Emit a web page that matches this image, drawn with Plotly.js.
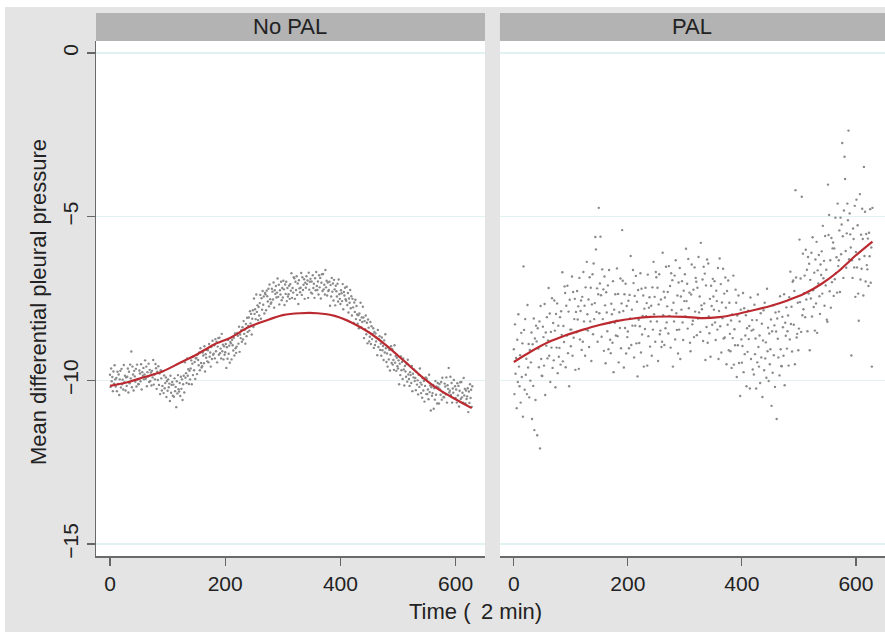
<!DOCTYPE html>
<html>
<head>
<meta charset="utf-8">
<script src="https://cdn.plot.ly/plotly-3.0.1.min.js"></script>
<style>
html,body{margin:0;padding:0;background:#ffffff;}
#chart{position:absolute;left:5px;top:7px;width:880px;height:625px;}
</style>
</head>
<body>
<div id="chart"></div>
<script>
// Panel titles
const panelNames = ["No PAL", "PAL"];
const xTickVals = [0, 200, 400, 600];
const yTickVals = [-15, -10, -5, 0];
const yTickText = ["\u221215", "\u221210", "\u22125", "0"];
const xTitle = "Time (\u2009 2 min)";
const yTitle = "Mean differential pleural pressure";

// Scatter: No PAL (one value per time step, t = 0..629)
const noPalPressure = [
-9.83,-10.20,-9.64,-10.03,-9.90,-10.33,-9.73,-10.10,-9.54,-9.97,
-10.19,-9.93,-10.33,-9.74,-10.11,-9.82,-10.45,-9.97,-9.71,-10.22,
-9.65,-10.12,-9.98,-10.28,-9.53,-10.06,-9.86,-10.31,-9.91,-10.17,
-9.89,-9.64,-10.37,-9.74,-10.09,-9.52,-9.94,-9.12,-10.21,-9.58,
-9.82,-10.31,-9.71,-9.88,-10.04,-9.65,-10.19,-9.52,-9.97,-10.11,
-10.12,-9.70,-9.79,-10.03,-9.51,-10.28,-9.75,-9.86,-9.62,-9.97,
-9.82,-9.39,-9.95,-9.58,-10.18,-9.75,-9.88,-9.49,-10.05,-9.68,
-10.02,-9.76,-10.16,-9.71,-9.91,-9.38,-10.13,-9.83,-9.97,-9.50,
-9.63,-10.26,-9.74,-9.99,-9.57,-10.14,-9.79,-10.42,-9.69,-9.94,
-10.31,-10.17,-9.72,-10.39,-9.85,-10.24,-10.08,-9.91,-10.51,-10.02,
-10.32,-9.97,-10.21,-10.10,-10.63,-9.86,-10.38,-10.14,-10.05,-10.47,
-10.13,-10.50,-9.94,-10.33,-10.20,-10.82,-10.03,-10.40,-9.84,-10.27,
-10.34,-10.08,-10.48,-9.89,-10.26,-9.97,-10.60,-10.12,-9.86,-10.37,
-9.45,-9.92,-9.78,-10.08,-9.33,-9.86,-9.66,-10.11,-9.71,-9.97,
-9.64,-9.39,-10.12,-9.49,-9.84,-9.27,-9.69,-9.44,-9.96,-9.33,
-9.32,-9.81,-9.21,-9.38,-9.54,-9.15,-9.69,-9.02,-9.47,-9.61,
-9.57,-9.15,-9.24,-9.48,-8.96,-9.73,-9.20,-9.31,-9.07,-9.42,
-9.08,-9.45,-8.89,-9.28,-9.15,-9.58,-8.98,-9.35,-8.79,-9.22,
-9.19,-8.93,-9.33,-8.74,-9.11,-8.82,-9.45,-8.97,-8.71,-9.22,
-8.70,-9.17,-9.03,-9.33,-8.58,-9.11,-8.91,-9.36,-8.96,-9.22,
-9.14,-8.89,-9.62,-8.99,-9.34,-8.77,-9.19,-8.94,-9.46,-8.83,
-8.87,-9.36,-8.76,-8.93,-9.09,-8.70,-9.24,-8.57,-9.02,-9.16,
-8.97,-8.55,-8.64,-8.88,-8.36,-9.13,-8.60,-8.71,-8.47,-8.82,
-8.38,-8.75,-8.19,-8.58,-8.45,-8.88,-8.28,-8.65,-8.09,-8.52,
-8.34,-8.08,-8.48,-7.89,-8.26,-7.97,-8.60,-8.12,-7.86,-8.37,
-7.50,-7.97,-7.83,-8.13,-7.38,-7.91,-7.71,-8.16,-7.76,-8.02,
-7.64,-7.39,-8.12,-7.49,-7.84,-7.27,-7.69,-7.44,-7.96,-7.33,
-7.37,-7.86,-7.26,-7.43,-7.59,-7.20,-7.74,-7.07,-7.52,-7.66,
-7.62,-7.20,-7.29,-7.53,-7.01,-7.78,-7.25,-7.36,-7.12,-7.47,
-7.32,-6.89,-7.45,-7.08,-7.68,-7.25,-7.38,-6.99,-7.55,-7.18,
-7.47,-6.96,-7.22,-7.70,-7.07,-7.36,-6.99,-7.58,-7.18,-7.44,
-7.37,-7.11,-7.51,-7.06,-7.26,-6.73,-7.48,-7.18,-7.32,-6.85,
-6.88,-7.51,-6.99,-7.24,-6.82,-7.39,-7.04,-7.67,-6.94,-7.19,
-7.31,-7.17,-6.72,-7.39,-6.85,-7.24,-7.08,-6.91,-7.51,-7.02,
-7.17,-6.82,-7.06,-6.95,-7.48,-6.71,-7.23,-6.99,-6.90,-7.32,
-6.98,-7.35,-6.79,-7.18,-7.05,-7.48,-6.88,-7.25,-6.69,-7.12,
-7.24,-6.98,-7.38,-6.79,-7.16,-6.87,-7.50,-7.02,-6.76,-7.27,
-6.75,-7.22,-7.08,-7.38,-6.63,-7.16,-6.96,-7.41,-7.01,-7.27,
-7.24,-6.99,-7.72,-7.09,-7.44,-6.87,-7.29,-7.04,-7.56,-6.93,
-7.22,-7.71,-7.11,-7.28,-7.44,-7.05,-7.59,-6.92,-7.37,-7.51,
-7.67,-7.25,-7.34,-7.58,-7.06,-7.83,-7.30,-7.41,-7.17,-7.52,
-7.57,-7.14,-7.70,-7.33,-7.93,-7.50,-7.63,-7.24,-7.80,-7.43,
-8.02,-7.51,-7.77,-8.25,-7.62,-7.91,-7.54,-8.13,-7.73,-7.99,
-8.27,-8.01,-8.41,-7.96,-8.16,-7.63,-8.38,-8.08,-8.22,-7.75,
-8.08,-8.71,-8.19,-8.44,-8.02,-8.59,-8.24,-8.87,-8.14,-8.39,
-8.81,-8.67,-8.22,-8.89,-8.35,-8.74,-8.58,-8.41,-9.01,-8.52,
-8.92,-8.57,-8.81,-8.70,-9.23,-8.46,-8.98,-8.74,-8.65,-9.07,
-8.88,-9.25,-8.69,-9.08,-8.95,-9.38,-8.78,-9.15,-8.59,-9.02,
-9.44,-9.18,-9.58,-8.99,-9.36,-9.07,-9.70,-9.22,-8.96,-9.47,
-9.05,-9.52,-9.38,-9.68,-8.93,-9.46,-9.26,-9.71,-9.31,-9.57,
-9.64,-9.39,-10.12,-9.49,-9.84,-9.27,-9.69,-9.44,-9.96,-9.33,
-9.67,-10.16,-9.56,-9.73,-9.89,-9.50,-10.04,-9.37,-9.82,-9.96,
-10.17,-9.75,-9.84,-10.08,-9.56,-10.33,-9.80,-9.91,-9.67,-10.02,
-9.93,-10.30,-9.74,-10.13,-10.00,-10.43,-9.83,-10.20,-9.64,-10.07,
-10.39,-10.13,-10.53,-9.94,-10.31,-10.02,-10.65,-10.17,-9.91,-10.42,
-9.95,-10.42,-10.28,-10.58,-9.83,-10.36,-10.16,-10.92,-10.21,-10.47,
-10.39,-10.14,-10.87,-10.24,-10.59,-10.02,-10.44,-10.19,-10.71,-10.08,
-10.22,-10.71,-10.11,-10.28,-10.44,-10.05,-10.59,-9.92,-10.37,-10.51,
-10.52,-10.10,-10.19,-10.43,-9.91,-10.68,-10.15,-10.26,-9.62,-10.37,
-10.32,-9.89,-10.45,-10.08,-10.68,-10.25,-10.38,-9.99,-10.55,-10.18,
-10.54,-10.28,-10.68,-10.09,-10.46,-10.17,-10.80,-10.32,-10.06,-10.57,
-10.05,-10.52,-10.38,-10.68,-9.93,-10.46,-10.26,-10.71,-10.31,-10.57,
-10.49,-10.24,-10.97,-10.34,-10.69,-10.12,-10.54,-10.29,-10.81,-10.18
];

// Scatter: PAL (one value per time step, t = 0..629)
const palPressure = [
-9.05,-10.42,-8.29,-9.80,-9.32,-10.85,-8.76,-10.05,-7.98,-9.58,
-10.18,-9.23,-10.68,-8.55,-9.90,-8.87,-11.11,-6.52,-8.46,-10.29,
-8.13,-9.83,-9.34,-10.42,-7.70,-9.61,-8.89,-10.52,-9.07,-10.01,
-9.45,-8.54,-11.18,-8.90,-10.17,-8.11,-11.52,-8.72,-10.60,-8.33,
-8.81,-11.68,-8.41,-9.03,-9.60,-8.20,-12.08,-7.73,-9.35,-9.86,
-9.87,-8.36,-8.68,-9.55,-7.67,-10.45,-8.54,-8.94,-8.07,-9.33,
-8.78,-7.18,-9.25,-7.96,-10.05,-8.52,-9.00,-7.49,-9.62,-8.25,
-9.39,-7.56,-8.48,-10.21,-7.97,-9.00,-7.65,-9.78,-8.33,-9.28,
-9.01,-8.07,-9.52,-7.89,-8.61,-6.70,-9.42,-8.34,-8.83,-7.13,
-7.33,-9.60,-7.72,-8.63,-7.11,-9.17,-7.90,-10.18,-7.54,-8.45,
-8.96,-8.45,-6.83,-9.25,-7.30,-8.70,-8.13,-7.51,-9.68,-7.91,
-8.53,-7.27,-8.14,-7.74,-9.65,-6.87,-8.75,-7.88,-7.56,-9.07,
-7.45,-8.82,-6.69,-8.20,-7.72,-9.25,-7.16,-8.45,-6.38,-7.98,
-8.48,-7.53,-8.98,-6.85,-8.20,-7.17,-9.41,-7.68,-6.76,-8.59,
-6.43,-8.13,-7.64,-5.62,-6.00,-7.91,-7.19,-8.82,-7.37,-4.73,
-7.95,-7.04,-5.61,-7.40,-8.67,-6.61,-8.13,-7.22,-9.10,-6.83,
-7.71,-9.48,-7.31,-7.93,-8.50,-7.10,-9.05,-6.63,-8.25,-8.76,
-9.17,-7.66,-7.98,-8.85,-6.97,-9.75,-7.84,-8.24,-7.37,-8.63,
-8.18,-6.58,-8.65,-7.36,-9.45,-7.92,-8.40,-6.89,-9.02,-7.65,
-5.41,-6.96,-7.88,-9.61,-7.37,-8.40,-7.05,-9.18,-7.73,-8.68,
-8.51,-7.57,-9.02,-7.39,-8.11,-6.20,-8.92,-7.84,-8.33,-6.63,
-7.03,-9.30,-7.42,-8.33,-6.81,-8.87,-7.60,-9.88,-7.24,-8.15,
-8.86,-8.35,-6.73,-9.15,-7.20,-8.60,-8.03,-7.41,-9.58,-7.81,
-8.43,-7.17,-8.04,-7.64,-9.55,-6.77,-8.65,-7.78,-7.46,-8.97,
-8.20,-7.72,-9.25,-7.16,-8.45,-6.38,-7.98,-7.45,-8.82,-6.69,
-6.85,-8.20,-7.17,-9.41,-7.68,-6.76,-8.59,-8.48,-7.53,-8.98,
-8.82,-6.10,-8.01,-7.29,-8.92,-7.47,-8.41,-6.53,-8.23,-7.74,
-7.30,-8.57,-6.51,-8.03,-7.12,-9.00,-6.73,-7.85,-6.94,-9.58,
-7.63,-8.20,-6.80,-8.75,-6.33,-7.95,-8.46,-7.41,-9.18,-7.01,
-8.45,-6.57,-9.35,-7.44,-7.84,-6.97,-8.23,-8.77,-7.26,-7.58,
-6.76,-8.05,-5.98,-7.58,-7.05,-8.42,-6.29,-7.80,-7.32,-8.85,
-9.11,-7.38,-6.46,-8.29,-8.18,-7.23,-8.68,-6.55,-7.90,-6.87,
-6.99,-8.62,-7.17,-8.11,-6.23,-7.93,-7.44,-8.52,-5.80,-7.71,
-7.83,-6.92,-8.80,-6.53,-7.65,-6.74,-9.38,-7.10,-8.37,-6.31,
-8.85,-6.43,-8.05,-8.56,-7.51,-9.28,-7.11,-7.73,-8.30,-6.90,
-7.44,-7.84,-6.97,-8.23,-8.77,-7.26,-7.58,-8.45,-6.57,-9.35,
-7.88,-6.28,-8.35,-7.06,-9.15,-7.62,-8.10,-6.59,-8.72,-7.35,
-8.69,-6.86,-7.78,-9.51,-7.27,-8.30,-6.95,-9.08,-7.63,-8.58,
-9.11,-8.17,-9.62,-7.99,-8.71,-6.80,-9.52,-8.44,-8.93,-7.23,
-7.63,-9.90,-8.02,-8.93,-7.41,-9.47,-8.20,-10.48,-7.84,-8.75,
-9.46,-8.95,-7.33,-9.75,-7.80,-9.20,-8.63,-8.01,-10.18,-8.41,
-9.13,-7.87,-8.74,-8.34,-10.25,-7.47,-9.35,-8.48,-8.16,-9.67,
-8.45,-9.82,-7.69,-9.20,-8.72,-10.25,-8.16,-9.45,-7.38,-8.98,
-9.58,-8.63,-10.08,-7.95,-9.30,-8.27,-10.51,-8.78,-7.86,-9.69,
-7.63,-9.33,-8.84,-9.92,-7.20,-9.11,-8.39,-10.02,-8.57,-9.51,
-9.05,-8.14,-10.78,-8.50,-9.77,-7.71,-9.23,-8.32,-10.20,-7.93,
-8.51,-11.18,-8.11,-8.73,-9.30,-7.90,-9.85,-7.43,-9.05,-9.56,
-9.57,-8.06,-8.38,-9.25,-7.37,-10.15,-8.24,-8.64,-7.77,-9.03,
-8.50,-8.02,-9.55,-7.46,-8.75,-6.68,-8.28,-7.75,-9.12,-6.99,
-6.95,-8.30,-7.27,-9.51,-4.19,-6.86,-8.69,-8.58,-7.63,-9.08,
-8.42,-5.70,-7.61,-6.89,-8.52,-4.39,-8.01,-6.13,-7.83,-7.34,
-6.80,-8.07,-6.01,-7.53,-6.62,-8.50,-6.23,-7.35,-6.44,-9.08,
-6.93,-7.50,-6.10,-8.05,-5.63,-7.25,-7.76,-6.71,-8.48,-6.31,
-7.65,-5.77,-8.55,-6.64,-7.04,-6.17,-7.43,-7.97,-6.46,-6.78,
-6.06,-7.35,-5.28,-6.88,-6.35,-7.72,-5.59,-7.10,-6.62,-8.15,
-8.21,-4.02,-5.56,-4.95,-7.28,-6.33,-7.78,-5.65,-7.00,-5.97,
-5.79,-7.42,-5.97,-6.91,-5.03,-6.73,-6.24,-7.32,-4.60,-6.51,
-6.33,-5.42,-7.30,-5.03,-6.15,-5.24,-2.75,-5.60,-6.87,-4.81,
-3.17,-3.85,-6.05,-6.56,-5.51,-4.60,-5.11,-2.37,-6.30,-4.90,
-5.54,-5.94,-9.24,-6.33,-6.87,-5.36,-5.68,-6.55,-4.67,-7.45,
-6.08,-4.48,-6.55,-5.26,-7.35,-8.18,-6.30,-4.31,-6.92,-5.55,
-6.59,-4.76,-5.68,-7.41,-3.48,-6.20,-4.85,-6.98,-5.53,-6.48,
-6.61,-5.67,-7.12,-5.49,-6.21,-4.77,-7.02,-5.94,-9.58,-4.73
];

// Smoothed fit lines
const fitTimeNoPal = [0,30,60,90,120,150,180,210,240,270,300,330,360,390,420,450,480,510,540,570,600,628];
const fitNoPal = [-10.17,-10.06,-9.90,-9.74,-9.48,-9.22,-8.91,-8.69,-8.38,-8.18,-8.01,-7.95,-7.95,-8.03,-8.24,-8.54,-8.94,-9.40,-9.87,-10.27,-10.58,-10.85];
const fitTimePal = [0,30,60,90,120,150,180,210,240,270,300,330,360,390,420,450,480,510,540,570,600,629];
const fitPal = [-9.44,-9.12,-8.84,-8.63,-8.46,-8.31,-8.19,-8.11,-8.06,-8.05,-8.06,-8.10,-8.07,-7.98,-7.86,-7.73,-7.56,-7.35,-7.05,-6.66,-6.18,-5.76];

const timeNoPal = noPalPressure.map((_, i) => i);
const timePal = palPressure.map((_, i) => i);

const FONT = "Liberation Sans, Arial, Helvetica, sans-serif";
const dotStyle = {size: 2.4, color: "#8a8a8a"};
const fitStyle = {color: "#bb2a30", width: 2.2, shape: "spline", smoothing: 0.8};

const traces = [
  {x: timeNoPal, y: noPalPressure, type: "scatter", mode: "markers", marker: dotStyle, xaxis: "x", yaxis: "y", hoverinfo: "skip"},
  {x: fitTimeNoPal, y: fitNoPal, type: "scatter", mode: "lines", line: fitStyle, xaxis: "x", yaxis: "y", hoverinfo: "skip"},
  {x: timePal, y: palPressure, type: "scatter", mode: "markers", marker: dotStyle, xaxis: "x2", yaxis: "y2", hoverinfo: "skip"},
  {x: fitTimePal, y: fitPal, type: "scatter", mode: "lines", line: fitStyle, xaxis: "x2", yaxis: "y2", hoverinfo: "skip"}
];

const xRange = [-24.3, 651];
const yRange = [-15.367, 0.367];
const d1 = [0, 0.493], d2 = [0.512, 1];
const headerTop = 1.0544;
const TICK_SIZE = 21, TITLE_SIZE = 22;

const xAxisBase = {
  range: xRange, tickmode: "array", tickvals: xTickVals,
  ticks: "outside", ticklen: 8, tickwidth: 1.2, tickcolor: "#666666",
  showline: true, linecolor: "#6a6a6a", linewidth: 1.5,
  showgrid: false, zeroline: false,
  tickfont: {family: FONT, size: TICK_SIZE, color: "#222222"}
};
const gridCol = "#e2f1f1";

const layout = {
  width: 880, height: 625,
  margin: {l: 91, r: 0, t: 34, b: 76},
  paper_bgcolor: "#e4e4e4", plot_bgcolor: "#ffffff",
  showlegend: false,
  font: {family: FONT, size: TICK_SIZE, color: "#222222"},
  xaxis: Object.assign({}, xAxisBase, {domain: d1, anchor: "y"}),
  xaxis2: Object.assign({}, xAxisBase, {domain: d2, anchor: "y2"}),
  yaxis: {
    domain: [0, 1], range: yRange, anchor: "x",
    tickmode: "array", tickvals: yTickVals, ticktext: yTickText, tickangle: -90,
    ticks: "outside", ticklen: 8, tickwidth: 1.2, tickcolor: "#666666",
    showline: true, linecolor: "#6a6a6a", linewidth: 1.5,
    showgrid: true, gridcolor: gridCol, gridwidth: 1.5, zeroline: false,
    tickfont: {family: FONT, size: TICK_SIZE, color: "#222222"}
  },
  yaxis2: {
    domain: [0, 1], range: yRange, anchor: "x2",
    tickmode: "array", tickvals: yTickVals, showticklabels: false, ticks: "",
    showline: false, showgrid: true, gridcolor: gridCol, gridwidth: 1.5, zeroline: false
  },
  shapes: [
    {type: "rect", xref: "paper", yref: "paper", x0: d1[0], x1: d1[1], y0: 1, y1: headerTop, fillcolor: "#b3b3b3", line: {width: 0}},
    {type: "rect", xref: "paper", yref: "paper", x0: d2[0], x1: d2[1], y0: 1, y1: headerTop, fillcolor: "#b3b3b3", line: {width: 0}}
  ],
  annotations: [
    {text: panelNames[0], xref: "paper", yref: "paper", x: (d1[0] + d1[1]) / 2, y: (1 + headerTop) / 2, xanchor: "center", yanchor: "middle", showarrow: false, font: {family: FONT, size: TITLE_SIZE, color: "#222222"}},
    {text: panelNames[1], xref: "paper", yref: "paper", x: (d2[0] + d2[1]) / 2, y: (1 + headerTop) / 2, xanchor: "center", yanchor: "middle", showarrow: false, font: {family: FONT, size: TITLE_SIZE, color: "#222222"}},
    {text: xTitle, xref: "paper", yref: "paper", x: 0.4816, y: -0.1087, xanchor: "center", yanchor: "middle", showarrow: false, font: {family: FONT, size: TITLE_SIZE, color: "#222222"}},
    {text: yTitle, xref: "paper", yref: "paper", x: -0.0735, y: 0.493, xanchor: "center", yanchor: "middle", textangle: -90, showarrow: false, font: {family: FONT, size: TITLE_SIZE, color: "#222222"}}
  ]
};

Plotly.newPlot("chart", traces, layout, {displayModeBar: false, staticPlot: true});
</script>
</body>
</html>
